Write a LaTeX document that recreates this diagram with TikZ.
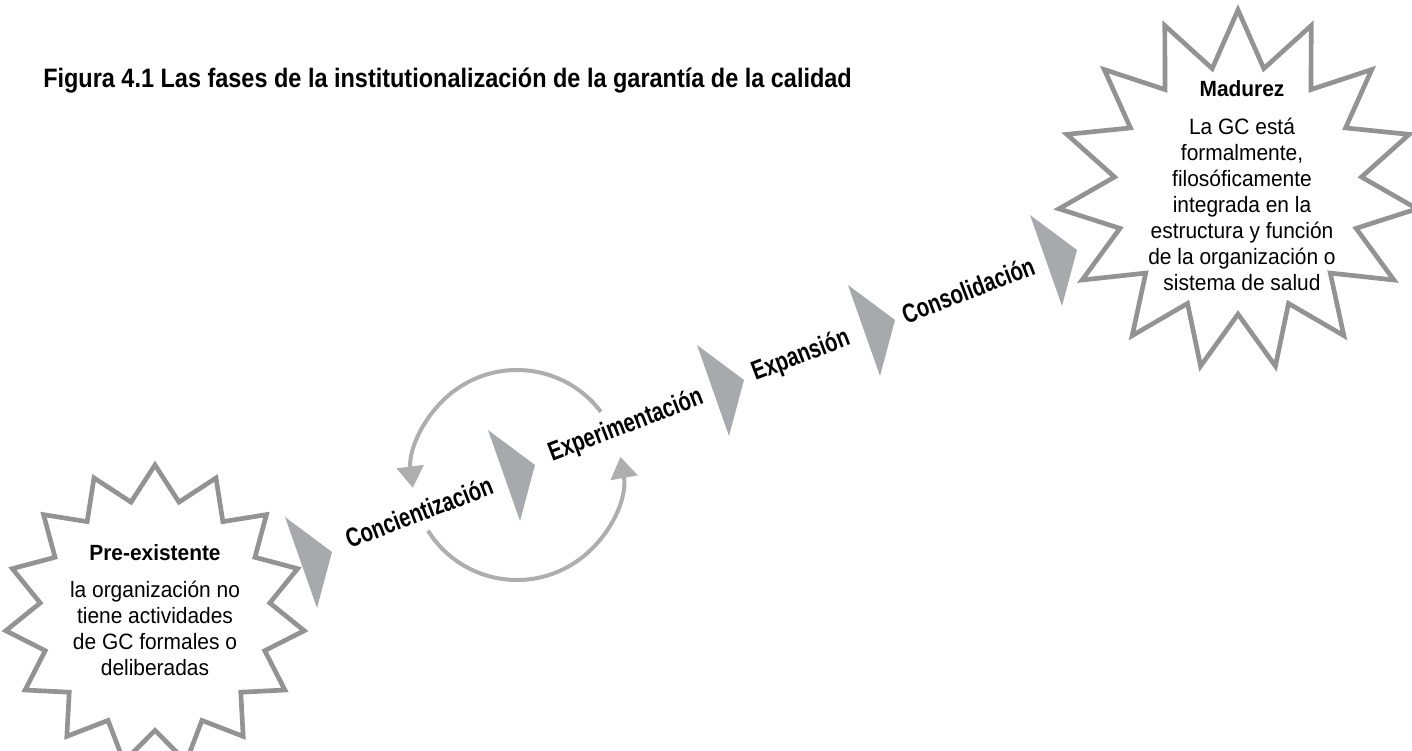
\documentclass[tikz,border=0pt]{standalone}
\usepackage{fontspec}
\setmainfont{Liberation Sans}
\newfontfamily\titlef{Liberation Sans}[FakeStretch=0.88]
\newfontfamily\sbf{Liberation Sans}[FakeStretch=0.95]
\newfontfamily\bodyf{Liberation Sans}[FakeStretch=0.94]
\usetikzlibrary{shapes.geometric,arrows.meta}
\definecolor{tri}{HTML}{A7A9AC}
\definecolor{starc}{HTML}{939393}
\definecolor{arcc}{HTML}{AEAEAE}
\begin{document}
\begin{tikzpicture}[x=0.75pt,y=0.75pt,
  burst/.style={star, star points=15, draw=starc, line width=3.5pt, inner sep=0pt, fill=white},
  wedge/.style={fill=tri},
  phase/.style={font=\bfseries\fontsize{20}{22}\selectfont, rotate=21, xscale=0.76, inner sep=0pt},
  cyclearc/.style={draw=arcc, line width=3pt, -{Triangle[width=20pt,length=16pt]}},
  stitle/.style={font=\sbf\bfseries\fontsize{16.5}{19}\selectfont, anchor=base, inner sep=0pt},
  sbody/.style={font=\bodyf\fontsize{16.7}{19.5}\selectfont, align=center, inner sep=0pt}
]
\useasboundingbox (0,0) rectangle (1412,750);
\fill[white] (0,0) rectangle (1412,750);

\node[anchor=base west, inner sep=0pt, font=\titlef\bfseries\fontsize{20}{24}\selectfont] (title) at (43,662) {Figura 4.1 Las fases de la institutionalización de la garantía de la calidad};

% starbursts
\node[burst, star point ratio=1.3, minimum size=225pt] (pre) at (155,135) {};
\node[burst, star point ratio=1.45, minimum size=270pt] (mad) at (1238,560) {};

\node[stitle] (pretitle) at (155,190) {Pre-existente};
\node[sbody] (prebody) at (155,121.5) {la organización no\\tiene actividades\\de GC formales o\\deliberadas};

\node[stitle] (madtitle) at (1242,653) {Madurez};
\node[sbody] (madbody) at (1242,546) {La GC está\\formalmente,\\filosóficamente\\integrada en la\\estructura y función\\de la organización o\\sistema de salud};

% wedges
\fill[wedge] (285,233) -- ++(47,-35) -- ++(-15,-56) -- cycle;
\fill[wedge] (488,320) -- ++(47,-35) -- ++(-15,-56) -- cycle;
\fill[wedge] (697,405) -- ++(47,-35) -- ++(-15,-56) -- cycle;
\fill[wedge] (848,465) -- ++(47,-35) -- ++(-15,-56) -- cycle;
\fill[wedge] (1030,535) -- ++(47,-35) -- ++(-15,-56) -- cycle;

% phase labels
\node[phase] (conc) at (419,238) {Concientización};
\node[phase] (expe) at (626,324) {Experimentación};
\node[phase] (expa) at (801,394) {Expansión};
\node[phase] (cons) at (968,460) {Consolidación};

% cycle arrows
\coordinate (cyc) at (517,275);
\draw[cyclearc] (cyc) ++(37:105) arc[start angle=37, end angle=187, radius=105];
\draw[cyclearc] (cyc) ++(212:105) arc[start angle=212, end angle=370, radius=105];
\end{tikzpicture}
\end{document}
